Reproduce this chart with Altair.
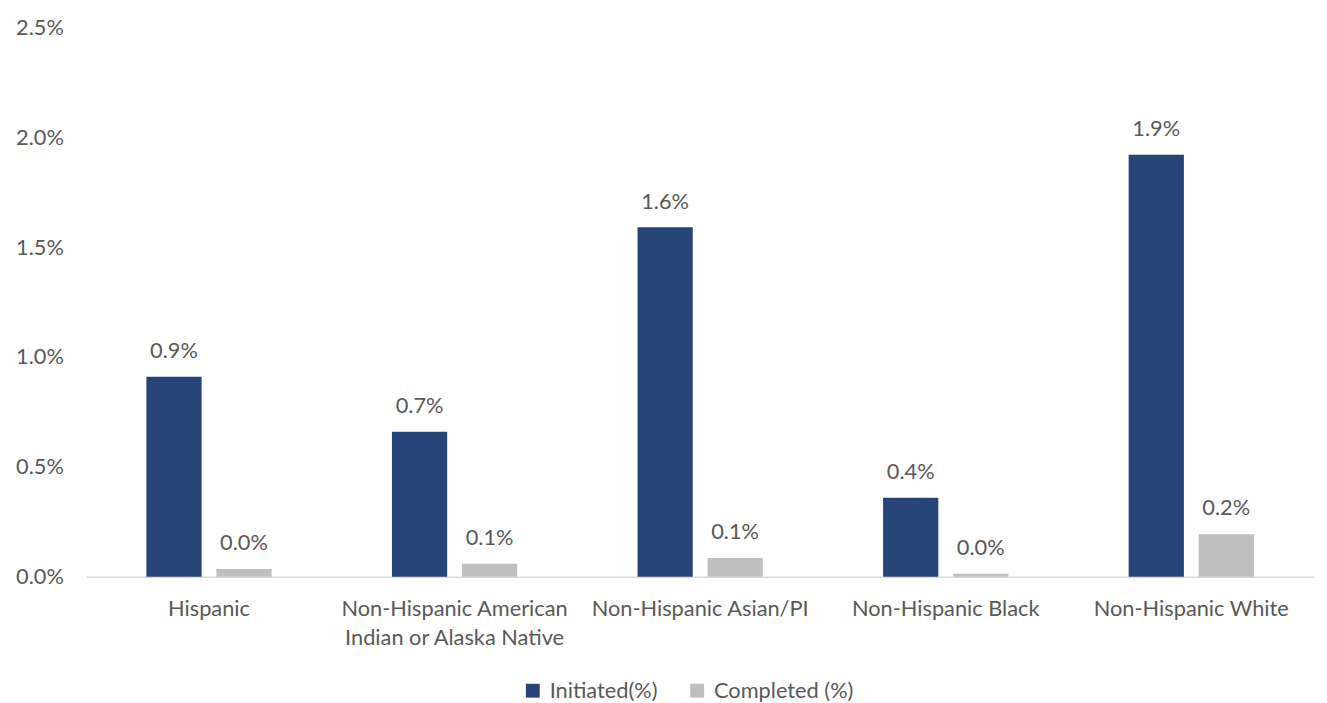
import altair as alt
import pandas as pd

categories = ["Hispanic", "Non-Hispanic American Indian or Alaska Native",
              "Non-Hispanic Asian/PI", "Non-Hispanic Black", "Non-Hispanic White"]
initiated = [0.0091, 0.0066, 0.0159, 0.0036, 0.0192]
completed = [0.00036, 0.00059, 0.00086, 0.00014, 0.00194]
series = ["Initiated(%)", "Completed (%)"]
colors = ["#264478", "#BFBFBF"]

rows = []
for c, a, b in zip(categories, initiated, completed):
    rows.append({"cat": c, "series": series[0], "value": a})
    rows.append({"cat": c, "series": series[1], "value": b})
df = pd.DataFrame(rows)

FONT = "Lato"
FS = 22
TXT = "#595959"

x = alt.X("cat:N", sort=categories, title=None,
          scale=alt.Scale(paddingInner=0.49, paddingOuter=0.245),
          axis=alt.Axis(labelAngle=0, labelFont=FONT, labelFontSize=FS, labelColor=TXT,
                        labelPadding=22, labelLineHeight=29, ticks=False, labelLimit=400,
                        domainColor="#D9D9D9", domainWidth=1.5,
                        labelExpr="datum.label == 'Non-Hispanic American Indian or Alaska Native' ? ['Non-Hispanic American', 'Indian or Alaska Native'] : datum.label"))
xo = alt.XOffset("series:N", sort=series,
                 scale=alt.Scale(paddingInner=0.211, paddingOuter=0))

base = alt.Chart(df).encode(x=x, xOffset=xo)

bars = base.mark_bar().encode(
    y=alt.Y("value:Q", title=None,
            scale=alt.Scale(domain=[0, 0.025], nice=False),
            axis=alt.Axis(format=".1%", values=[0, 0.005, 0.01, 0.015, 0.02, 0.025],
                          grid=False, domain=False, ticks=False,
                          labelFont=FONT, labelFontSize=FS, labelColor=TXT, labelPadding=23)),
    color=alt.Color("series:N", sort=series,
                    scale=alt.Scale(domain=series, range=colors),
                    legend=alt.Legend(title=None, orient="none", direction="horizontal",
                                      legendX=440, legendY=659,
                                      symbolType="square", symbolSize=196,
                                      symbolStrokeWidth=0,
                                      labelFont=FONT, labelFontSize=FS, labelColor=TXT,
                                      columnPadding=28, labelOffset=6))
)

labels = base.mark_text(baseline="bottom", dy=-14, font=FONT, fontSize=FS, color=TXT).encode(
    y=alt.Y("value:Q"),
    text=alt.Text("value:Q", format=".1%")
)

chart = (bars + labels).properties(
    width=1240, height=555,
    padding={"left": 7, "top": 5, "right": 5, "bottom": 5}
).configure_view(stroke=None)

chart.save("out.html", embed_options={"renderer": "svg", "actions": False})
